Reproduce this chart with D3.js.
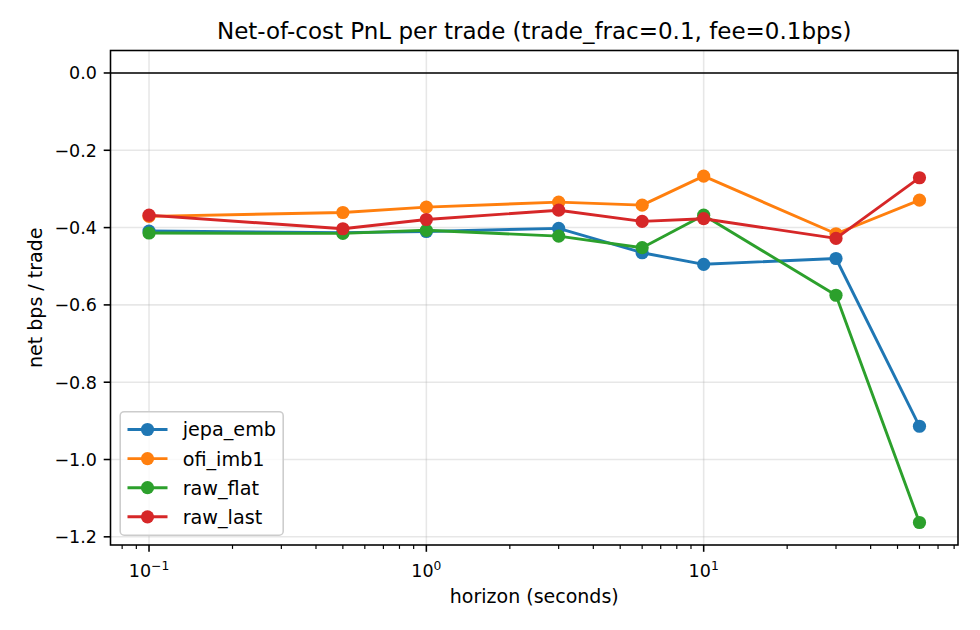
<!DOCTYPE html>
<html>
<head>
<meta charset="utf-8">
<script src="https://cdn.jsdelivr.net/npm/d3@7"></script>
<style>
  html, body { margin: 0; padding: 0; background: #fff; }
  svg { display: block; font-family: "DejaVu Sans", sans-serif; }
</style>
</head>
<body>
<svg id="chart" width="980" height="630"></svg>
<script>
const horizons = [0.1, 0.5, 1, 3, 6, 10, 30, 60];
const seriesNames = ["jepa_emb", "ofi_imb1", "raw_flat", "raw_last"];
const jepaEmb = [-0.409, -0.413, -0.410, -0.402, -0.465, -0.495, -0.480, -0.914];
const ofiImb1 = [-0.371, -0.361, -0.347, -0.334, -0.342, -0.267, -0.416, -0.329];
const rawFlat = [-0.414, -0.415, -0.407, -0.422, -0.452, -0.368, -0.575, -1.163];
const rawLast = [-0.368, -0.403, -0.379, -0.355, -0.384, -0.377, -0.428, -0.271];
const seriesColors = ["#1f77b4", "#ff7f0e", "#2ca02c", "#d62728"];
const yTicks = [0.0, -0.2, -0.4, -0.6, -0.8, -1.0, -1.2];
const xMajorTicks = [0.1, 1, 10];
const xTickExponents = ["\u22121", "0", "1"];
const titleText = "Net-of-cost PnL per trade (trade_frac=0.1, fee=0.1bps)";
const xLabelText = "horizon (seconds)";
const yLabelText = "net bps / trade";

const allSeries = [jepaEmb, ofiImb1, rawFlat, rawLast];

const svg = d3.select("#chart");
const L = 110.5, R = 958, T = 50.5, B = 545;

// domains with matplotlib-like 5% margins
const lx0 = Math.log10(d3.min(horizons)), lx1 = Math.log10(d3.max(horizons));
const mx = (lx1 - lx0) * 0.05;
const x = d3.scaleLog().domain([Math.pow(10, lx0 - mx), Math.pow(10, lx1 + mx)]).range([L, R]);
const allVals = allSeries.flat().concat([0]);
const ymin = d3.min(allVals), ymax = d3.max(allVals);
const my = (ymax - ymin) * 0.05;
const y = d3.scaleLinear().domain([ymin - my, ymax + my]).range([B, T]);

const sw = 1.56;
const mr = 6.6;

// grid
const grid = svg.append("g");
xMajorTicks.forEach(t => {
  grid.append("line").attr("x1", x(t)).attr("x2", x(t)).attr("y1", T).attr("y2", B)
    .attr("stroke", "#b0b0b0").attr("stroke-opacity", 0.3).attr("stroke-width", sw);
});
yTicks.forEach(t => {
  grid.append("line").attr("x1", L).attr("x2", R).attr("y1", y(t)).attr("y2", y(t))
    .attr("stroke", "#b0b0b0").attr("stroke-opacity", 0.3).attr("stroke-width", sw);
});

// zero line
svg.append("line").attr("x1", L).attr("x2", R).attr("y1", y(0)).attr("y2", y(0))
  .attr("stroke", "#000").attr("stroke-width", sw);

// series
const line = d3.line().x(d => x(d[0])).y(d => y(d[1]));
allSeries.forEach((vals, i) => {
  const pts = horizons.map((h, j) => [h, vals[j]]);
  const g = svg.append("g");
  g.append("path").attr("d", line(pts)).attr("fill", "none")
    .attr("stroke", seriesColors[i]).attr("stroke-width", 2.9)
    .attr("stroke-linejoin", "round").attr("stroke-linecap", "square");
  g.selectAll("circle").data(pts).enter().append("circle")
    .attr("cx", d => x(d[0])).attr("cy", d => y(d[1])).attr("r", mr)
    .attr("fill", seriesColors[i]);
});

// x axis ticks (minor)
const [d0, d1] = x.domain();
const minor = [];
for (let e = -2; e <= 2; e++) {
  for (let m = 2; m <= 9; m++) {
    const v = m * Math.pow(10, e);
    if (v >= d0 && v <= d1) minor.push(v);
  }
}
const ax = svg.append("g");
minor.forEach(v => {
  ax.append("line").attr("x1", x(v)).attr("x2", x(v)).attr("y1", B).attr("y2", B + 3.9)
    .attr("stroke", "#000").attr("stroke-width", 1.17);
});
xMajorTicks.forEach((t, i) => {
  ax.append("line").attr("x1", x(t)).attr("x2", x(t)).attr("y1", B).attr("y2", B + 6.8)
    .attr("stroke", "#000").attr("stroke-width", sw);
  const txt = ax.append("text").attr("x", x(t)).attr("y", 576.5)
    .attr("text-anchor", "middle").attr("font-size", 17.5).attr("fill", "#000");
  txt.append("tspan").text("10");
  txt.append("tspan").attr("font-size", 12.3).attr("dy", -7).text(xTickExponents[i]);
});

// y axis ticks
yTicks.forEach(t => {
  ax.append("line").attr("x1", L - 6.8).attr("x2", L).attr("y1", y(t)).attr("y2", y(t))
    .attr("stroke", "#000").attr("stroke-width", sw);
  ax.append("text").attr("x", L - 6.8 - 6.8).attr("y", y(t)).attr("dy", "0.36em")
    .attr("text-anchor", "end").attr("font-size", 17.5).attr("fill", "#000")
    .text(d3.format(".1f")(t).replace("-", "\u2212"));
});

// spines
svg.append("rect").attr("x", L).attr("y", T).attr("width", R - L).attr("height", B - T)
  .attr("fill", "none").attr("stroke", "#000").attr("stroke-width", sw);

// labels
svg.append("text").attr("x", (L + R) / 2).attr("y", 38.5).attr("text-anchor", "middle")
  .attr("font-size", 23).attr("fill", "#000").text(titleText);
svg.append("text").attr("x", (L + R) / 2).attr("y", 603).attr("text-anchor", "middle")
  .attr("font-size", 19).attr("fill", "#000").text(xLabelText);
svg.append("text").attr("transform", `translate(41.5,${(T + B) / 2}) rotate(-90)`)
  .attr("text-anchor", "middle").attr("font-size", 19).attr("fill", "#000").text(yLabelText);

// legend
const lg = svg.append("g");
const lx = 120.2, ly = 411.7, lw = 163, lh = 123.5;
lg.append("rect").attr("x", lx).attr("y", ly).attr("width", lw).attr("height", lh)
  .attr("rx", 4).attr("ry", 4).attr("fill", "#fff").attr("fill-opacity", 0.8)
  .attr("stroke", "#cccccc").attr("stroke-width", sw);
seriesNames.forEach((name, i) => {
  const cy = 429.5 + i * 29.1;
  lg.append("line").attr("x1", 127.5).attr("x2", 167.5).attr("y1", cy).attr("y2", cy)
    .attr("stroke", seriesColors[i]).attr("stroke-width", 2.9);
  lg.append("circle").attr("cx", 147.5).attr("cy", cy).attr("r", mr).attr("fill", seriesColors[i]);
  lg.append("text").attr("x", 182.7).attr("y", cy).attr("dy", "0.36em")
    .attr("font-size", 19.2).attr("fill", "#000").text(name);
});
</script>
</body>
</html>
